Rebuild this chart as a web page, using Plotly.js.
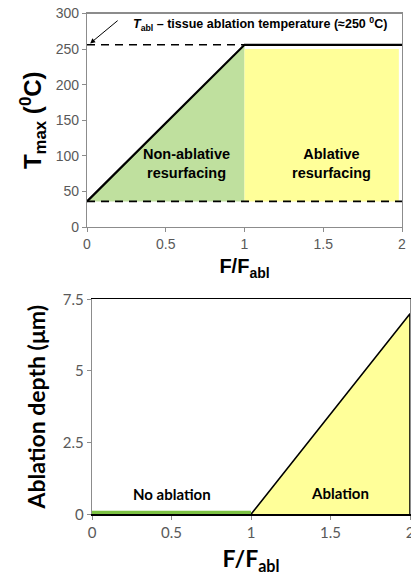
<!DOCTYPE html>
<html>
<head>
<meta charset="utf-8">
<script src="https://cdn.plot.ly/plotly-3.0.1.min.js"></script>
<style>
  html, body { margin: 0; padding: 0; background: #fff; }
  #chart { width: 411px; height: 575px; }
</style>
</head>
<body>
<div id="chart"></div>
<script>
// Fluence ratio F/F_abl at the curve's break points
const fluenceRatio = [0, 1, 2];
// Peak surface temperature T_max (°C) at those points
const tMax = [36, 256, 256];
// Baseline (skin) temperature and ablation threshold temperature (°C)
const tBaseline = 36;
const tAblation = 256;
// Upper edge and right edge of the ablative-resurfacing region
const ablativeTop = 250;
const ablativeRight = 1.98;
// Ablation depth (µm) at the same fluence ratios
const ablationDepth = [0, 0, 7];

// Axis ticks
const tmaxTicks = [0, 50, 100, 150, 200, 250, 300];
const fluenceTicks = [0, 0.5, 1, 1.5, 2];
const fluenceTickText = ['0', '0.5', '1', '1.5', '2'];
const depthTicks = [0, 2.5, 5, 7.5];
const depthTickText = ['0', '2.5', '5', '7.5'];

const W = 411, H = 575;
const px = v => v / W;
const py = v => 1 - v / H;

const arial = 'Liberation Sans, Arial, sans-serif';
const soft = 'Lato, Open Sans, sans-serif';
const grey = '#595959';

const traces = [];

// Non-ablative region: under the rising edge, above baseline
traces.push({
  x: [fluenceRatio[0], fluenceRatio[1], fluenceRatio[1]],
  y: [tMax[0], tMax[1], tBaseline],
  fill: 'toself', fillcolor: '#bfe09e', mode: 'lines', line: {width: 0},
  xaxis: 'x', yaxis: 'y', hoverinfo: 'skip', showlegend: false
});
// Ablative region
traces.push({
  x: [fluenceRatio[1], ablativeRight, ablativeRight, fluenceRatio[1]],
  y: [tBaseline, tBaseline, ablativeTop, ablativeTop],
  fill: 'toself', fillcolor: '#ffff99', mode: 'lines', line: {width: 0},
  xaxis: 'x', yaxis: 'y', hoverinfo: 'skip', showlegend: false
});
// Dashed reference lines
traces.push({
  x: [fluenceRatio[0], fluenceRatio[2]], y: [tBaseline, tBaseline],
  mode: 'lines', line: {color: '#000', width: 1.6, dash: '8px,6px'},
  xaxis: 'x', yaxis: 'y', showlegend: false, hoverinfo: 'skip'
});
traces.push({
  x: [fluenceRatio[0], fluenceRatio[1]], y: [tAblation, tAblation],
  mode: 'lines', line: {color: '#000', width: 1.6, dash: '8px,6px'},
  xaxis: 'x', yaxis: 'y', showlegend: false, hoverinfo: 'skip'
});
// T_max curve
traces.push({
  x: fluenceRatio, y: tMax, mode: 'lines',
  line: {color: '#000', width: 2.2},
  xaxis: 'x', yaxis: 'y', showlegend: false
});

// Lower panel: ablation region under the depth curve
traces.push({
  x: fluenceRatio.slice(1).concat([fluenceRatio[2]]),
  y: ablationDepth.slice(1).concat([0]),
  fill: 'toself', fillcolor: '#ffff99', mode: 'lines',
  line: {color: '#000', width: 1.6},
  xaxis: 'x2', yaxis: 'y2', hoverinfo: 'skip', showlegend: false
});
// No-ablation segment
traces.push({
  x: fluenceRatio.slice(0, 2), y: ablationDepth.slice(0, 2), mode: 'lines',
  line: {color: '#7cc243', width: 7},
  xaxis: 'x2', yaxis: 'y2', showlegend: false
});

const boxAxis = {
  showline: true, linecolor: '#8c8c8c', linewidth: 1.2, mirror: true,
  showgrid: false, zeroline: false, ticks: 'outside', ticklen: 4,
  tickcolor: '#8c8c8c', tickfont: {family: arial, size: 14, color: grey},
  ticklabeloverflow: 'allow'
};

const layout = {
  width: W, height: H,
  margin: {l: 0, r: 0, t: 0, b: 0},
  paper_bgcolor: '#fff', plot_bgcolor: '#fff',
  showlegend: false,
  xaxis: Object.assign({}, boxAxis, {
    domain: [px(87), px(402)], range: [0, 2], anchor: 'y',
    tickvals: fluenceTicks, ticktext: fluenceTickText,
    title: {text: '<b>F/F<sub>abl</sub></b>', font: {family: arial, size: 20, color: '#000'}, standoff: 8}
  }),
  yaxis: Object.assign({}, boxAxis, {
    domain: [py(227), py(13.5)], range: [0, 300], anchor: 'x',
    tickvals: tmaxTicks,
    title: {text: '<b>T<sub>max</sub> (<sup>0</sup>C)</b>', font: {family: arial, size: 24, color: '#000'}, standoff: 7}
  }),
  xaxis2: Object.assign({}, boxAxis, {
    domain: [px(92), px(410)], range: [0, 2], anchor: 'y2',
    linecolor: '#000', linewidth: 1.6,
    tickvals: fluenceTicks, ticktext: fluenceTickText,
    tickfont: {family: soft, size: 15, color: grey},
    title: {text: '<b>F/F<sub>abl</sub></b>', font: {family: soft, size: 23, color: '#000'}, standoff: 12}
  }),
  yaxis2: Object.assign({}, boxAxis, {
    domain: [py(514.3), py(299.3)], range: [0, 7.5], anchor: 'x2',
    tickvals: depthTicks, ticktext: depthTickText,
    tickfont: {family: soft, size: 15, color: grey},
    title: {text: '<b>Ablation depth (\u03bcm)</b>', font: {family: soft, size: 23, color: '#000'}, standoff: 10}
  }),
  annotations: [
    {
      xref: 'x', yref: 'y', x: 0.02, y: tAblation + 2,
      ax: 29, ay: -24, showarrow: true, arrowhead: 2, arrowsize: 1,
      arrowwidth: 1, arrowcolor: '#000', text: ''
    },
    {
      xref: 'paper', yref: 'paper', x: px(131), y: py(24), xanchor: 'left', yanchor: 'middle',
      text: '<b><i>T</i><sub>abl</sub> \u2013 tissue ablation temperature (\u2248250 <sup>0</sup>C)</b>',
      showarrow: false, font: {family: arial, size: 12.5, color: '#000'}
    },
    {
      xref: 'x', yref: 'y', x: 0.63, y: 89, showarrow: false,
      text: '<b>Non-ablative<br>resurfacing</b>',
      font: {family: arial, size: 14.5, color: '#000'}
    },
    {
      xref: 'x', yref: 'y', x: 1.55, y: 89, showarrow: false,
      text: '<b>Ablative<br>resurfacing</b>',
      font: {family: arial, size: 14.5, color: '#000'}
    },
    {
      xref: 'x2', yref: 'y2', x: 0.5, y: 0.7, showarrow: false,
      text: '<b>No ablation</b>', font: {family: soft, size: 15, color: '#000'}
    },
    {
      xref: 'x2', yref: 'y2', x: 1.56, y: 0.75, showarrow: false,
      text: '<b>Ablation</b>', font: {family: soft, size: 15, color: '#000'}
    }
  ]
};

Plotly.newPlot('chart', traces, layout, {displayModeBar: false, staticPlot: true});
</script>
</body>
</html>
